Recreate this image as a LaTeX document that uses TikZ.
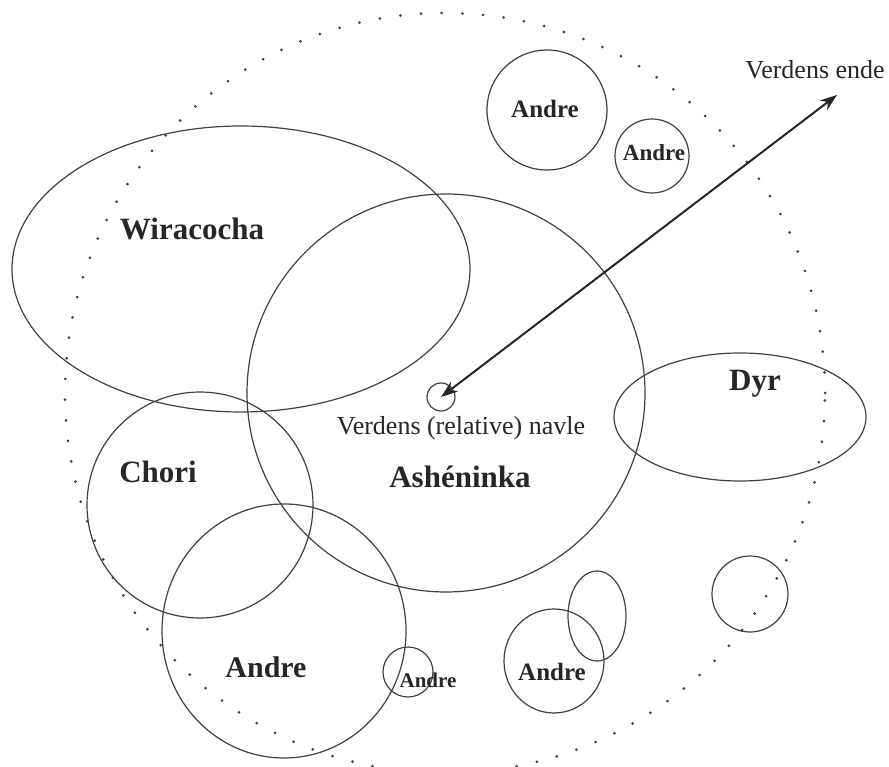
\documentclass[tikz,border=0pt]{standalone}
\usepackage{fontspec}
\setmainfont{Liberation Serif}
\usetikzlibrary{arrows.meta}

\tikzset{
  ring/.style = {line width=1.2pt, draw=black!75},
  gruppe/.style = {font=\bfseries\fontsize{31}{31}\selectfont, text=black!85, inner sep=0pt},
  andre/.style = {font=\bfseries\fontsize{#1}{#1}\selectfont, text=black!85, inner sep=0pt},
  merke/.style = {font=\fontsize{26}{26}\selectfont, text=black!85, inner sep=0pt}
}

\begin{document}
\begin{tikzpicture}[x=1pt, y=-1pt]
  \useasboundingbox (0,0) rectangle (889,767);

  % Verdens grense (prikket)
  \draw[line width=3pt, line cap=round, dash pattern=on 0pt off 20.7pt, black!75]
    (445,393) circle[radius=380pt];

  % Ashéninka i midten
  \draw[ring] (446,393) circle[radius=199pt];

  % Wiracocha
  \draw[ring] (241,269) ellipse[x radius=229pt, y radius=143pt];

  % Chori
  \draw[ring] (200,505) circle[radius=113pt];

  % Andre (store og små)
  \draw[ring] (284,631) ellipse[x radius=122pt, y radius=127pt];
  \draw[ring] (408,672) circle[radius=25pt];
  \draw[ring] (554,661) ellipse[x radius=50pt, y radius=52pt];
  \draw[ring] (597,616) ellipse[x radius=29pt, y radius=45pt];
  \draw[ring] (750,594) circle[radius=38pt];
  \draw[ring] (547,110) circle[radius=60pt];
  \draw[ring] (652,156) circle[radius=37pt];

  % Dyr
  \draw[ring] (740,417) ellipse[x radius=126pt, y radius=64pt];

  % Navle og pil til verdens ende
  \node[ring, circle, minimum size=28pt, inner sep=0pt] (navle) at (441,397) {};
  \coordinate (ende) at (837,95);
  \draw[line width=2pt, black!85,
        {Stealth[length=17pt, width=12pt]}-{Stealth[length=17pt, width=12pt]}]
    (navle.center) -- (ende);

  % Tekster
  \node[gruppe] (wiracocha) at (192,229) {Wiracocha};
  \node[gruppe] (ashen) at (460,477) {Ashéninka};
  \node[gruppe] (chori) at (158,472) {Chori};
  \node[gruppe] (dyr) at (755,384) {Dyr};
  \node[merke] (navletekst) at (461,428) {Verdens (relative) navle};
  \node[merke] (endetekst) at (815,70) {Verdens ende};
  \node[andre=30] (andre1) at (266,667) {Andre};
  \node[andre=21] (andre2) at (428,680) {Andre};
  \node[andre=25] (andre3) at (552,672) {Andre};
  \node[andre=25] (andre4) at (545,109) {Andre};
  \node[andre=23] (andre5) at (654,153) {Andre};
\end{tikzpicture}
\end{document}
